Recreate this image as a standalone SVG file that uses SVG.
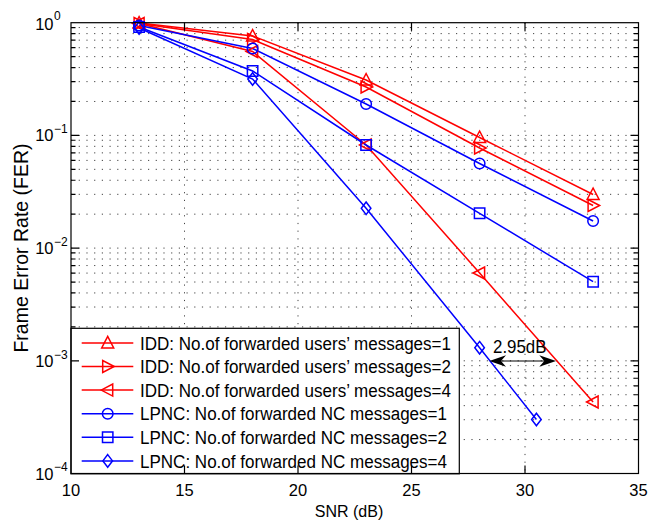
<svg xmlns="http://www.w3.org/2000/svg" xmlns:xlink="http://www.w3.org/1999/xlink" width="648" height="521" viewBox="0 0 648 521">
<style>
text{font-family:"Liberation Sans",Arial,sans-serif;fill:#000}
.tick{font-size:16.5px}
.sup{font-size:12px}
.leg{font-size:18px}
.grid{fill:none;stroke:#444;stroke-width:1;stroke-dasharray:1.2 6.5}
.ax{fill:none;stroke:#000;stroke-width:1.2}
.red{fill:none;stroke:#ff0000;stroke-width:1.5}
.blue{fill:none;stroke:#0000ff;stroke-width:1.5}
.mk-r{fill:none;stroke:#ff0000;stroke-width:1.5}
.mk-b{fill:none;stroke:#0000ff;stroke-width:1.5}
</style>
<defs>
<path id="m-up" d="M0,-6.5 L6,5 L-6,5 Z"/>
<path id="m-right" d="M6.5,0 L-5,-6 L-5,6 Z"/>
<path id="m-left" d="M-6.5,0 L5,-6 L5,6 Z"/>
<circle id="m-circ" cx="0" cy="0" r="5.3"/>
<path id="m-sq" d="M-5.2,-5.2 h10.4 v10.4 h-10.4 Z"/>
<path id="m-dia" d="M0,-6.3 L4.8,0 L0,6.3 L-4.8,0 Z"/>
</defs>
<rect x="0" y="0" width="648" height="521" fill="#fff"/>
<g id="grid">
<path class="grid" d="M184.5,22.7V473.5M298,22.7V473.5M411.5,22.7V473.5M525,22.7V473.5"/>
<path class="grid" d="M71,135.4H638.5M71,248.1H638.5M71,360.8H638.5
M71,101.47H638.5M71,81.63H638.5M71,67.55H638.5M71,56.63H638.5M71,47.7H638.5M71,40.16H638.5M71,33.62H638.5M71,27.56H638.5
M71,214.17H638.5M71,194.33H638.5M71,180.25H638.5M71,169.33H638.5M71,160.4H638.5M71,152.86H638.5M71,146.32H638.5M71,140.26H638.5
M71,326.87H638.5M71,307.03H638.5M71,292.95H638.5M71,282.03H638.5M71,273.1H638.5M71,265.56H638.5M71,259.02H638.5M71,252.96H638.5
M71,439.57H638.5M71,419.73H638.5M71,405.65H638.5M71,394.73H638.5M71,385.8H638.5M71,378.26H638.5M71,371.72H638.5M71,365.66H638.5"/>
</g>
<g id="connectors">
<polyline class="red" points="139.1,23 252.6,36 366.1,80 479.6,137.5 593.1,194.5"/>
<polyline class="red" points="139.1,23.5 252.6,39.5 366.1,87 479.6,148 593.1,205.5"/>
<polyline class="red" points="139.1,23.5 252.6,51.5 366.1,145 479.6,273 593.1,402"/>
<polyline class="blue" points="139.1,25.5 252.6,48.5 366.1,104 479.6,163.5 593.1,221"/>
<polyline class="blue" points="139.1,27 252.6,71 366.1,145 479.6,213.3 593.1,281.7"/>
<polyline class="blue" points="139.1,28 252.6,79 366.1,208.3 479.6,347.7 536.4,419.5"/>
</g>
<g id="idd1" class="mk-r">
<use xlink:href="#m-up" x="139.1" y="23"/><use xlink:href="#m-up" x="252.6" y="36"/><use xlink:href="#m-up" x="366.1" y="80"/><use xlink:href="#m-up" x="479.6" y="137.5"/><use xlink:href="#m-up" x="593.1" y="194.5"/>
</g>
<g id="idd2" class="mk-r">
<use xlink:href="#m-right" x="139.1" y="23.5"/><use xlink:href="#m-right" x="252.6" y="39.5"/><use xlink:href="#m-right" x="366.1" y="87"/><use xlink:href="#m-right" x="479.6" y="148"/><use xlink:href="#m-right" x="593.1" y="205.5"/>
</g>
<g id="idd4" class="mk-r">
<use xlink:href="#m-left" x="139.1" y="23.5"/><use xlink:href="#m-left" x="252.6" y="51.5"/><use xlink:href="#m-left" x="366.1" y="145"/><use xlink:href="#m-left" x="479.6" y="273"/><use xlink:href="#m-left" x="593.1" y="402"/>
</g>
<g id="lpnc1" class="mk-b">
<use xlink:href="#m-circ" x="139.1" y="25.5"/><use xlink:href="#m-circ" x="252.6" y="48.5"/><use xlink:href="#m-circ" x="366.1" y="104"/><use xlink:href="#m-circ" x="479.6" y="163.5"/><use xlink:href="#m-circ" x="593.1" y="221"/>
</g>
<g id="lpnc2" class="mk-b">
<use xlink:href="#m-sq" x="139.1" y="27"/><use xlink:href="#m-sq" x="252.6" y="71"/><use xlink:href="#m-sq" x="366.1" y="145"/><use xlink:href="#m-sq" x="479.6" y="213.3"/><use xlink:href="#m-sq" x="593.1" y="281.7"/>
</g>
<g id="lpnc4" class="mk-b">
<use xlink:href="#m-dia" x="139.1" y="28"/><use xlink:href="#m-dia" x="252.6" y="79"/><use xlink:href="#m-dia" x="366.1" y="208.3"/><use xlink:href="#m-dia" x="479.6" y="347.7"/><use xlink:href="#m-dia" x="536.4" y="419.5"/>
</g>
<g id="legend">
<rect x="71" y="328.3" width="388.3" height="145.5" fill="#fff" stroke="#000" stroke-width="1.2"/>
<line class="red" x1="81.7" y1="342.9" x2="133.3" y2="342.9"/><use class="mk-r" xlink:href="#m-up" x="107.7" y="342.9"/>
<text class="leg" x="140" y="349.5" textLength="311" lengthAdjust="spacingAndGlyphs">IDD: No.of forwarded users’ messages=1</text>
<line class="red" x1="81.7" y1="366.5" x2="133.3" y2="366.5"/><use class="mk-r" xlink:href="#m-right" x="107.7" y="366.5"/>
<text class="leg" x="140" y="373.1" textLength="311" lengthAdjust="spacingAndGlyphs">IDD: No.of forwarded users’ messages=2</text>
<line class="red" x1="81.7" y1="390.1" x2="133.3" y2="390.1"/><use class="mk-r" xlink:href="#m-left" x="107.7" y="390.1"/>
<text class="leg" x="140" y="396.7" textLength="311" lengthAdjust="spacingAndGlyphs">IDD: No.of forwarded users’ messages=4</text>
<line class="blue" x1="81.7" y1="413.7" x2="133.3" y2="413.7"/><use class="mk-b" xlink:href="#m-circ" x="107.7" y="413.7"/>
<text class="leg" x="140" y="420.3" textLength="307" lengthAdjust="spacingAndGlyphs">LPNC: No.of forwarded NC messages=1</text>
<line class="blue" x1="81.7" y1="437.3" x2="133.3" y2="437.3"/><use class="mk-b" xlink:href="#m-sq" x="107.7" y="437.3"/>
<text class="leg" x="140" y="443.9" textLength="307" lengthAdjust="spacingAndGlyphs">LPNC: No.of forwarded NC messages=2</text>
<line class="blue" x1="81.7" y1="460.9" x2="133.3" y2="460.9"/><use class="mk-b" xlink:href="#m-dia" x="107.7" y="460.9"/>
<text class="leg" x="140" y="467.5" textLength="307" lengthAdjust="spacingAndGlyphs">LPNC: No.of forwarded NC messages=4</text>
</g>
<g id="axes">
<rect class="ax" x="71" y="22.7" width="567.5" height="450.8"/>
<path class="ax" d="M184.5,473.5v-8M298,473.5v-8M411.5,473.5v-8M525,473.5v-8M184.5,22.7v8M298,22.7v8M411.5,22.7v8M525,22.7v8
M71,135.4h8M71,248.1h8M71,360.8h8M638.5,135.4h-8M638.5,248.1h-8M638.5,360.8h-8"/>
<path class="ax" stroke-width="1" d="M71,101.47h4.5M71,81.63h4.5M71,67.55h4.5M71,56.63h4.5M71,47.7h4.5M71,40.16h4.5M71,33.62h4.5M71,27.56h4.5
M71,214.17h4.5M71,194.33h4.5M71,180.25h4.5M71,169.33h4.5M71,160.4h4.5M71,152.86h4.5M71,146.32h4.5M71,140.26h4.5
M71,326.87h4.5M71,307.03h4.5M71,292.95h4.5M71,282.03h4.5M71,273.1h4.5M71,265.56h4.5M71,259.02h4.5M71,252.96h4.5
M638.5,101.47h-4.5M638.5,81.63h-4.5M638.5,67.55h-4.5M638.5,56.63h-4.5M638.5,47.7h-4.5M638.5,40.16h-4.5M638.5,33.62h-4.5M638.5,27.56h-4.5
M638.5,214.17h-4.5M638.5,194.33h-4.5M638.5,180.25h-4.5M638.5,169.33h-4.5M638.5,160.4h-4.5M638.5,152.86h-4.5M638.5,146.32h-4.5M638.5,140.26h-4.5
M638.5,326.87h-4.5M638.5,307.03h-4.5M638.5,292.95h-4.5M638.5,282.03h-4.5M638.5,273.1h-4.5M638.5,265.56h-4.5M638.5,259.02h-4.5M638.5,252.96h-4.5
M638.5,439.57h-4.5M638.5,419.73h-4.5M638.5,405.65h-4.5M638.5,394.73h-4.5M638.5,385.8h-4.5M638.5,378.26h-4.5M638.5,371.72h-4.5M638.5,365.66h-4.5"/>
<g class="tick" text-anchor="middle">
<text x="71" y="495.5">10</text><text x="184.5" y="495.5">15</text><text x="298" y="495.5">20</text><text x="411.5" y="495.5">25</text><text x="525" y="495.5">30</text><text x="638.5" y="495.5">35</text>
</g>
<g class="tick" text-anchor="end">
<text x="53.5" y="29.5">10</text><text x="53.5" y="141">10</text><text x="53.5" y="254">10</text><text x="53.5" y="366.5">10</text><text x="53.5" y="479.5">10</text>
</g>
<g class="sup">
<text x="54" y="20">0</text><text x="54" y="133">−1</text><text x="54" y="246">−2</text><text x="54" y="358.5">−3</text><text x="54" y="471">−4</text>
</g>
<text x="349" y="516.5" font-size="16" text-anchor="middle">SNR (dB)</text>
<text transform="translate(28,248) rotate(-90)" font-size="19.5" text-anchor="middle">Frame Error Rate (FER)</text>
</g>
<g id="annotation">
<line x1="500" y1="361" x2="545" y2="361" stroke="#000" stroke-width="1"/>
<path d="M489.3,361 L506,355.3 L501,361 L506,366.7 Z" fill="#000"/>
<path d="M556,361 L539.3,355.3 L544.3,361 L539.3,366.7 Z" fill="#000"/>
<text class="leg" x="493" y="353.3" textLength="53.5" lengthAdjust="spacingAndGlyphs">2.95dB</text>
</g>
</svg>
